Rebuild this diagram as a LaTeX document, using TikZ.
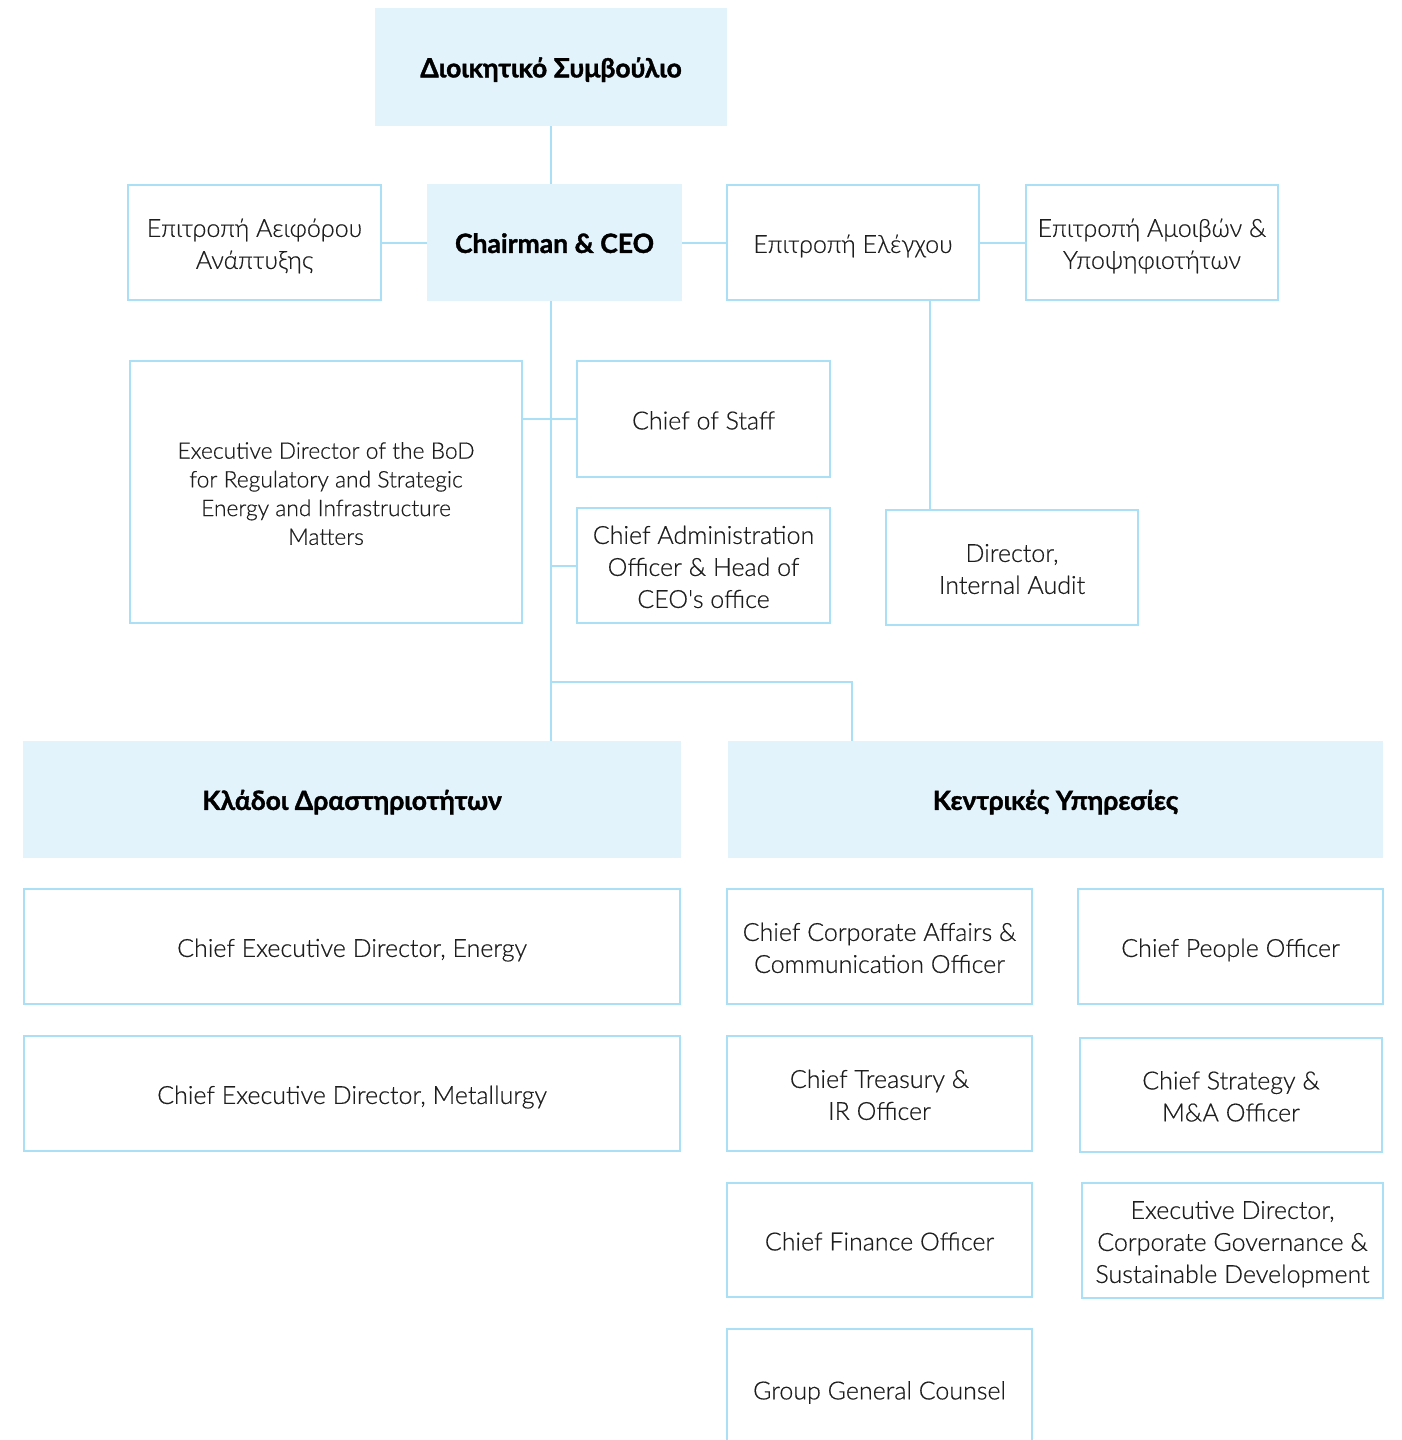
\documentclass[tikz,border=0pt]{standalone}
\usepackage{fontspec}
\usetikzlibrary{calc}
\newfontfamily\latofam{Lato}
\IfFontExistsTF{Lato Light}{\newfontfamily\regf{Lato Light}[FakeBold=0.5]}{\let\regf\latofam}
\newfontfamily\hvyfam{Lato}[BoldFeatures={FakeBold=1.4}]
\newcommand\hvyf{\hvyfam\bfseries}
\newcommand\bt[1]{\raisebox{0pt}[\dimexpr\height+8pt\relax][\depth]{\begin{tabular}{@{}c@{}}#1\end{tabular}}}
\renewcommand\arraystretch{1}
\definecolor{lineblue}{HTML}{AADFF6}
\definecolor{fillblue}{HTML}{E2F3FC}
\definecolor{txtgray}{HTML}{1E1E1E}
\tikzset{
  plainbox/.style={draw=lineblue, line width=2pt, text=txtgray, inner sep=0pt,
    font=\regf\fontsize{25}{32}\selectfont},
  headbox/.style={fill=fillblue, draw=none, text=black, inner sep=0pt,
    font=\hvyf\fontsize{26.5}{32}\selectfont},
  conn/.style={draw=lineblue, line width=2pt},
}
\begin{document}
\begin{tikzpicture}[x=1pt,y=-1pt]
\useasboundingbox (0,0) rectangle (1402,1440);
\clip (0,0) rectangle (1402,1440);
% headline boxes
\node[headbox, minimum width=352, minimum height=118] (board) at (551,67) {\bt{Διοικητικό Συμβούλιο}};
\node[headbox, minimum width=255, minimum height=117] (chair) at (554.5,242.5) {\bt{Chairman \& CEO}};
\node[headbox, minimum width=658, minimum height=117] (klad) at (352,799.5) {\bt{Κλάδοι Δραστηριοτήτων}};
\node[headbox, minimum width=655, minimum height=117] (kent) at (1055.5,799.5) {\bt{Κεντρικές Υπηρεσίες}};
% committees
\node[plainbox, minimum width=253, minimum height=115] (sust) at (254.5,242.5) {\bt{Επιτροπή Αειφόρου\\Ανάπτυξης}};
\node[plainbox, minimum width=252, minimum height=115] (elen) at (853,242.5) {\bt{Επιτροπή Ελέγχου}};
\node[plainbox, minimum width=252, minimum height=115] (rem) at (1152,242.5) {\bt{Επιτροπή Αμοιβών \&\\Υποψηφιοτήτων}};
% second row
\node[plainbox, minimum width=392, minimum height=262, font=\regf\fontsize{22.8}{28.7}\selectfont] (execbod) at (326,492)
  {\bt{Executive Director of the BoD\\for Regulatory and Strategic\\Energy and Infrastructure\\Matters}};
\node[plainbox, minimum width=253, minimum height=116] (cos) at (703.5,419) {\bt{Chief of Staff}};
\node[plainbox, minimum width=253, minimum height=115] (cao) at (703.5,565.5) {\bt{Chief Administration\\Officer \& Head of\\CEO's office}};
\node[plainbox, minimum width=252, minimum height=115] (dia) at (1012,567.5) {\bt{Director,\\Internal Audit}};
% business lines
\node[plainbox, minimum width=656, minimum height=115] (energy) at (352,946.5) {\bt{Chief Executive Director, Energy}};
\node[plainbox, minimum width=656, minimum height=115] (metal) at (352,1093.5) {\bt{Chief Executive Director, Metallurgy}};
% central services
\node[plainbox, minimum width=305, minimum height=115] (corp) at (879.5,946.5) {\bt{Chief Corporate Affairs \&\\Communication Officer}};
\node[plainbox, minimum width=305, minimum height=115] (people) at (1230.5,946.5) {\bt{Chief People Officer}};
\node[plainbox, minimum width=305, minimum height=115] (treas) at (879.5,1093.5) {\bt{Chief Treasury \&\\IR Officer}};
\node[plainbox, minimum width=302, minimum height=114] (strat) at (1231,1095) {\bt{Chief Strategy \&\\M\&A Officer}};
\node[plainbox, minimum width=305, minimum height=114] (cfo) at (879.5,1240) {\bt{Chief Finance Officer}};
\node[plainbox, minimum width=301, minimum height=115] (exgov) at (1232.5,1240.5) {\bt{Executive Director,\\Corporate Governance \&\\Sustainable Development}};
\node[plainbox, minimum width=305, minimum height=120] (ggc) at (879.5,1389) {\bt{Group General Counsel}};
% connectors
\draw[conn] (board.south) -- (board.south |- chair.north);
\draw[conn] (sust.east) -- (chair.west);
\draw[conn] (chair.east) -- (elen.west);
\draw[conn] (elen.east) -- (elen.east -| rem.west);
\coordinate (elendrop) at ($(elen.south east)+(-50,0)$);
\draw[conn] (elendrop) -- (elendrop |- dia.north);
\draw[conn] (board.south |- chair.south) -- (board.south |- klad.north);
\draw[conn] (cos.west) -- (cos.west -| execbod.east);
\draw[conn] (cao.west) -- (cao.west -| board.south);
\coordinate (br) at (board.south |- 0,682);
\coordinate (brR) at (852,682);
\draw[conn] (br) -- (brR) -- (brR |- kent.north);
\end{tikzpicture}
\end{document}
